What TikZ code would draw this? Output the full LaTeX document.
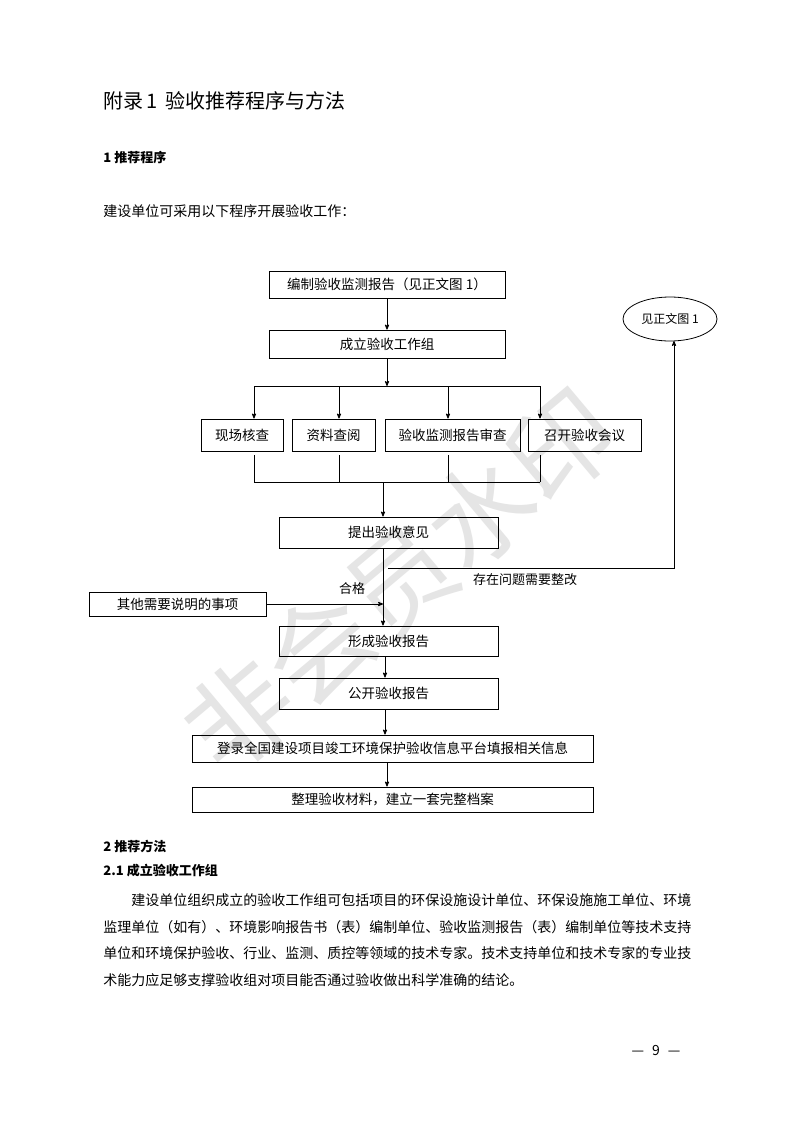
\documentclass[tikz,border=0pt]{standalone}
\usepackage{fontspec}
\setmainfont{Noto Sans CJK SC}
\usetikzlibrary{arrows,shapes,positioning}
\tikzset{box/.style={draw, rectangle, inner sep=0pt, font=\fontsize{13.5}{15}\selectfont},
  txt/.style={anchor=west, inner sep=0pt, font=\fontsize{14}{16}\selectfont},
  flow/.style={->, >=stealth', line width=.8pt}}
\begin{document}
\begin{tikzpicture}[x=1pt, y=-1pt, line width=.8pt]
    \useasboundingbox[fill=white] (0,0) rectangle (793,1122);
    % watermark
    \node[text=black!10, rotate=40, font=\fontsize{105}{110}\selectfont] (wm) at (400,580) {非会员水印};
    % page text
    \node[txt, font=\fontsize{20}{22}\selectfont] (title) at (103,101) {附录\,1\hspace{8pt}验收推荐程序与方法};
    \node[txt, font=\fontsize{13}{15}\bfseries] (h1) at (103,158) {1 推荐程序};
    \node[txt] (intro) at (103,211) {建设单位可采用以下程序开展验收工作：};
    % flow chart
    \node[box, minimum width=236pt, minimum height=27pt] (prep) at (387,284.5) {编制验收监测报告（见正文图 1）};
    \node[box, minimum width=236pt, minimum height=28pt] (group) at (387,344) {成立验收工作组};
    \node[draw, ellipse, minimum width=94pt, minimum height=44pt, inner sep=0pt,
      font=\fontsize{12}{14}\selectfont] (see) at (670,319) {见正文图 1};
    \node[box, minimum width=82pt, minimum height=32pt] (site) at (242,435) {现场核查};
    \node[box, minimum width=83pt, minimum height=32pt] (docs) at (333.5,435) {资料查阅};
    \node[box, minimum width=135pt, minimum height=32pt] (review) at (452.5,435) {验收监测报告审查};
    \node[box, minimum width=113pt, minimum height=32pt] (meet) at (584.5,435) {召开验收会议};
    \node[box, minimum width=219pt, minimum height=31pt] (opinion) at (388.5,532.5) {提出验收意见};
    \node[box, minimum width=177pt, minimum height=24pt] (other) at (177.5,604) {其他需要说明的事项};
    \node[box, minimum width=219pt, minimum height=30pt] (report) at (388.5,641) {形成验收报告};
    \node[box, minimum width=219pt, minimum height=31pt] (public) at (388.5,693.5) {公开验收报告};
    \node[box, minimum width=401pt, minimum height=27pt] (login) at (392.5,748.5) {登录全国建设项目竣工环境保护验收信息平台填报相关信息};
    \node[box, minimum width=401pt, minimum height=25pt] (archive) at (392.5,799.5) {整理验收材料，建立一套完整档案};
    \coordinate (split) at (387,386);
    \coordinate (join) at (383,482);
    \coordinate (turn) at (388,568);
    \coordinate (merge) at (383,604);
    \draw[flow] (prep) -- (group);
    \draw[flow] (group) -- (split);
    \draw (254,386) -- (540,386);
    \foreach \n/\x in {site/254, docs/339, review/448, meet/540}
      \draw[flow] (\x,386) -- (\x,418.5);
    \foreach \x in {254, 339, 448, 540}
      \draw (\x,455) -- (\x,482);
    \draw (254,482) -- (540,482);
    \draw[flow] (join) -- (383,516.5);
    \draw[flow] (383,548) -- (383,625.5);
    \draw[flow] (turn) -- (674,568) -- (674,341);
    \node[font=\fontsize{13}{15}\selectfont] (fix) at (525,580) {存在问题需要整改};
    \node[font=\fontsize{13}{15}\selectfont] (ok) at (352,589) {合格};
    \draw[flow] (other) -- (merge);
    \draw[flow] (385,656) -- (385,677.5);
    \draw[flow] (385,709) -- (385,734.5);
    \draw[flow] (387,762) -- (387,786.5);
    % method text
    \node[txt, font=\fontsize{13}{15}\bfseries] (h2) at (103,846) {2 推荐方法};
    \node[txt, font=\fontsize{13}{15}\bfseries] (h21) at (103,871) {2.1 成立验收工作组};
    \node[txt] (p1) at (131,900) {建设单位组织成立的验收工作组可包括项目的环保设施设计单位、环保设施施工单位、环境};
    \node[txt] (p2) at (103,927) {监理单位（如有）、环境影响报告书（表）编制单位、验收监测报告（表）编制单位等技术支持};
    \node[txt] (p3) at (103,953) {单位和环境保护验收、行业、监测、质控等领域的技术专家。技术支持单位和技术专家的专业技};
    \node[txt] (p4) at (103,980) {术能力应足够支撑验收组对项目能否通过验收做出科学准确的结论。};
    \node[font=\fontsize{14}{16}\selectfont] (page) at (656,1050) {—\hspace{8pt}9\hspace{8pt}—};
\end{tikzpicture}
\end{document}
